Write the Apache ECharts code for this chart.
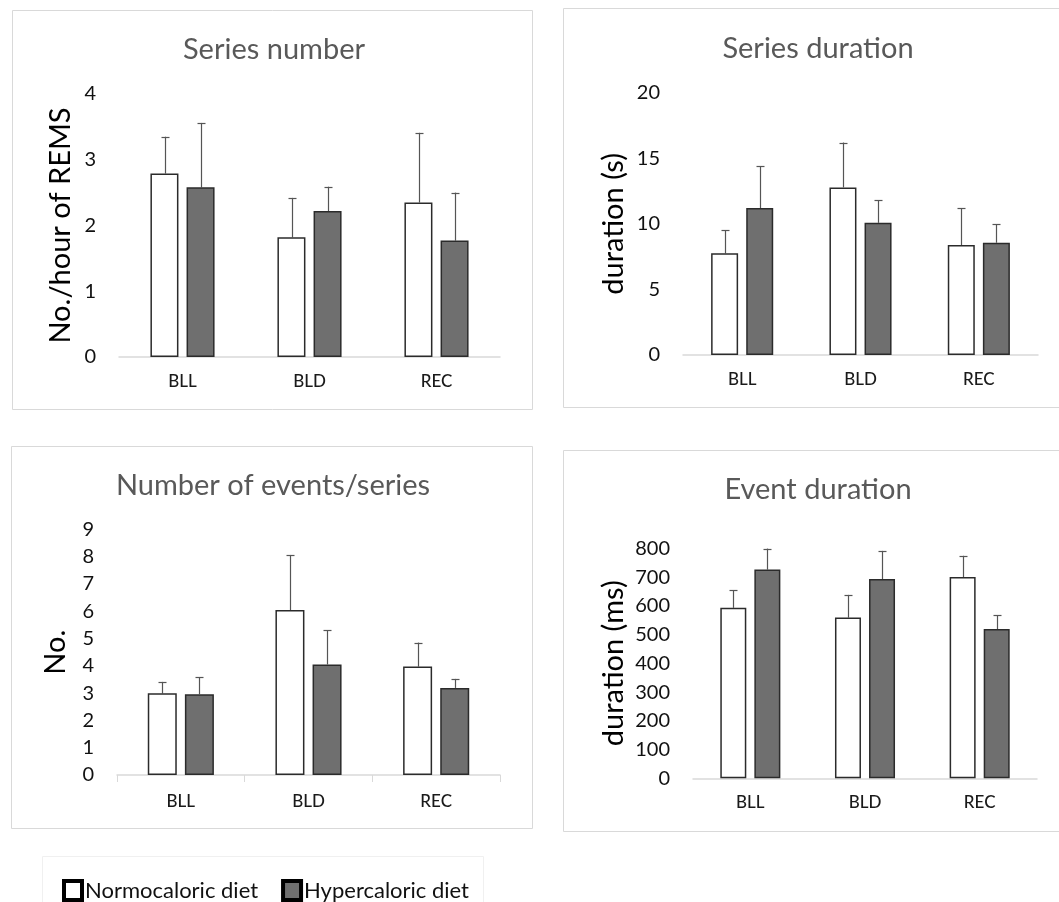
<!DOCTYPE html>
<html>
<head>
<meta charset="utf-8">
<script src="https://cdn.jsdelivr.net/npm/echarts@6/dist/echarts.min.js"></script>
<style>
  html, body { margin: 0; padding: 0; background: #ffffff; }
  #chart { width: 1059px; height: 902px; }
</style>
</head>
<body>
<div id="chart"></div>
<script>
// ---------- data ----------
const categories = ['BLL', 'BLD', 'REC'];
const seriesNames = ['Normocaloric diet', 'Hypercaloric diet'];
const panelTitles = ['Series number', 'Series duration', 'Number of events/series', 'Event duration'];
const axisNames = ['No./hour of REMS', 'duration (s)', 'No.', 'duration (ms)'];

// Series number (No./hour of REMS)
const seriesNumberNormo = [2.79, 1.82, 2.35];
const seriesNumberNormoErr = [0.56, 0.60, 1.06];
const seriesNumberHyper = [2.58, 2.22, 1.77];
const seriesNumberHyperErr = [0.98, 0.37, 0.73];

// Series duration (s)
const seriesDurNormo = [7.75, 12.78, 8.38];
const seriesDurNormoErr = [1.78, 3.42, 2.80];
const seriesDurHyper = [11.2, 10.08, 8.56];
const seriesDurHyperErr = [3.2, 1.71, 1.42];

// Number of events/series
const eventsNormo = [2.99, 6.04, 3.97];
const eventsNormoErr = [0.42, 2.02, 0.88];
const eventsHyper = [2.96, 4.05, 3.19];
const eventsHyperErr = [0.63, 1.26, 0.33];

// Event duration (ms)
const eventDurNormo = [593, 559, 700];
const eventDurNormoErr = [61, 79, 74];
const eventDurHyper = [726, 693, 519];
const eventDurHyperErr = [73, 98, 49];

// axis ranges
const yMax = [4, 20, 9, 800];
const yInterval = [1, 5, 1, 100];

// ---------- layout / style ----------
const FONT = 'Lato, "Open Sans", sans-serif';
const grids = [
  { left: 119, top: 94,    width: 381, height: 263 },
  { left: 683, top: 92.7,  width: 355, height: 262.3 },
  { left: 117, top: 529.3, width: 383, height: 245.7 },
  { left: 693, top: 548.3, width: 344, height: 230 }
];
const barWidths = [28, 27, 29, 26];
const barGapPx = 8;
const nameGaps = [44, 55, 47, 65];
const labelMargins = [16, 16, 18, 16];
const frames = [
  { x: 12, y: 10, w: 520, h: 399 },
  { x: 563, y: 8, w: 520, h: 399 },
  { x: 11, y: 446, w: 521, h: 382 },
  { x: 563, y: 450, w: 520, h: 381 }
];
const titlePos = [
  { cx: 269, top: 30 },
  { cx: 813, top: 29 },
  { cx: 268, top: 466 },
  { cx: 813, top: 470 }
];

const panelData = [
  [[seriesNumberNormo, seriesNumberNormoErr], [seriesNumberHyper, seriesNumberHyperErr]],
  [[seriesDurNormo, seriesDurNormoErr], [seriesDurHyper, seriesDurHyperErr]],
  [[eventsNormo, eventsNormoErr], [eventsHyper, eventsHyperErr]],
  [[eventDurNormo, eventDurNormoErr], [eventDurHyper, eventDurHyperErr]]
];

const fills = ['#ffffff', '#6f6f6f'];
const barBorder = '#2b2b2b';
const errColor = '#555555';

function makeErrRender(offset) {
  return function (params, api) {
    const x = api.value(0), v = api.value(1), e = api.value(2);
    const p0 = api.coord([x, v]);
    const p1 = api.coord([x, v + e]);
    const cx = Math.round(p0[0] + offset) + 0.5;
    const cap = 4;
    return {
      type: 'group',
      children: [
        { type: 'line', shape: { x1: cx, y1: p0[1], x2: cx, y2: p1[1] },
          style: { stroke: errColor, lineWidth: 1.2 } },
        { type: 'line', shape: { x1: cx - cap, y1: Math.round(p1[1]) + 0.5, x2: cx + cap, y2: Math.round(p1[1]) + 0.5 },
          style: { stroke: errColor, lineWidth: 1.2 } }
      ]
    };
  };
}

const option = {
  animation: false,
  backgroundColor: '#ffffff',
  textStyle: { fontFamily: FONT },
  title: panelTitles.map((t, i) => ({
    text: t,
    left: titlePos[i].cx,
    top: titlePos[i].top,
    textAlign: 'center',
    textStyle: { fontFamily: FONT, fontSize: 29, fontWeight: 'normal', color: '#595959' }
  })),
  legend: {
    left: 57,
    top: 874,
    itemWidth: 18,
    itemHeight: 19,
    itemGap: 23,
    icon: 'rect',
    data: seriesNames,
    textStyle: { fontFamily: FONT, fontSize: 22, color: '#111111', padding: [0, 0, 0, -2] },
    itemStyle: { borderWidth: 4, borderColor: '#000000' }
  },
  graphic: frames.map(f => ({
    type: 'rect',
    silent: true,
    shape: { x: f.x + 0.5, y: f.y + 0.5, width: f.w, height: f.h },
    style: { fill: 'none', stroke: '#d9d9d9', lineWidth: 1 }
  })).concat([{
    type: 'rect',
    silent: true,
    shape: { x: 42.5, y: 856.5, width: 441, height: 60 },
    style: { fill: 'none', stroke: '#f0f0f0', lineWidth: 1 }
  }]),
  grid: grids.map(g => Object.assign({ containLabel: false }, g)),
  xAxis: grids.map((g, i) => ({
    type: 'category',
    gridIndex: i,
    data: categories,
    axisLine: { lineStyle: { color: '#d9d9d9', width: 1.5 } },
    axisTick: { show: i === 2, length: 7, lineStyle: { color: '#d9d9d9' } },
    axisLabel: { fontFamily: FONT, fontSize: 17, fontWeight: 500, color: '#1a1a1a', margin: labelMargins[i] }
  })),
  yAxis: grids.map((g, i) => ({
    type: 'value',
    gridIndex: i,
    min: 0,
    max: yMax[i],
    interval: yInterval[i],
    name: axisNames[i],
    nameLocation: 'middle',
    nameGap: nameGaps[i],
    nameTextStyle: { fontFamily: FONT, fontSize: 29, color: '#000000' },
    axisLine: { show: false },
    axisTick: { show: false },
    splitLine: { show: false },
    axisLabel: { fontFamily: FONT, fontSize: 20, color: '#111111', margin: 23 }
  })),
  series: []
};

panelData.forEach((pair, i) => {
  const bw = barWidths[i];
  const offset = (bw + barGapPx) / 2;
  pair.forEach((d, s) => {
    option.series.push({
      type: 'bar',
      name: seriesNames[s],
      xAxisIndex: i,
      yAxisIndex: i,
      barWidth: bw,
      barGap: Math.round(barGapPx / bw * 100) + '%',
      data: d[0],
      itemStyle: { color: fills[s], borderColor: barBorder, borderWidth: 1.5 }
    });
  });
  pair.forEach((d, s) => {
    option.series.push({
      type: 'custom',
      name: seriesNames[s] + ' error',
      xAxisIndex: i,
      yAxisIndex: i,
      clip: false,
      z: 1,
      renderItem: makeErrRender(s === 0 ? -offset : offset),
      encode: { x: 0, y: 1 },
      data: d[0].map((v, k) => [k, v, d[1][k]])
    });
  });
});

const chart = echarts.init(document.getElementById('chart'), null, { renderer: 'canvas' });
chart.setOption(option);
</script>
</body>
</html>
